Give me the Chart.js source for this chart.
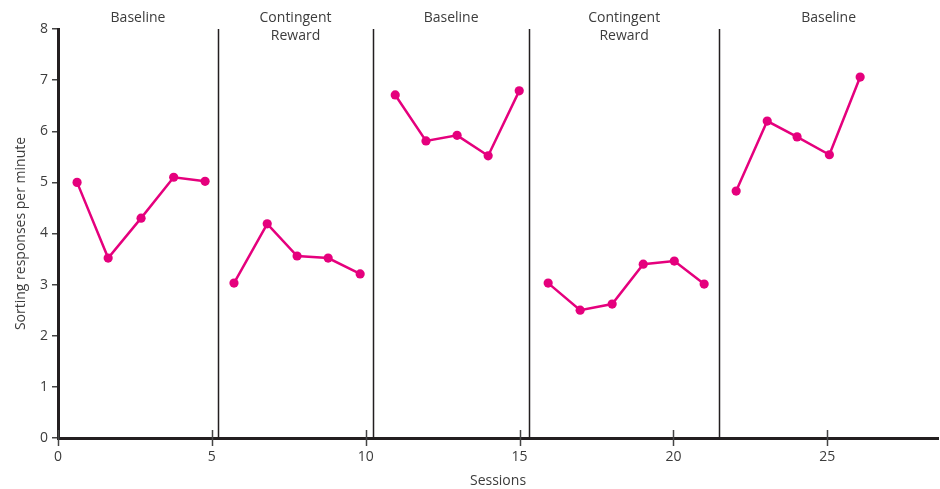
<!DOCTYPE html>
<html>
<head>
<meta charset="utf-8">
<script src="https://cdn.jsdelivr.net/npm/chart.js@4/dist/chart.umd.min.js"></script>
<style>
  html, body { margin: 0; padding: 0; background: #fff; }
  #wrap { width: 940px; height: 489px; position: relative; }
</style>
</head>
<body>
<div id="wrap"><canvas id="c" width="940" height="489"></canvas></div>
<script>
// Session numbers and sorting rates for each phase
const baselineASessions = [0.62, 1.63, 2.7, 3.76, 4.78];
const baselineARates    = [5.0, 3.52, 4.3, 5.1, 5.02];

const rewardASessions = [5.72, 6.8, 7.77, 8.78, 9.82];
const rewardARates    = [3.03, 4.19, 3.56, 3.52, 3.21];

const baselineBSessions = [10.96, 11.96, 12.97, 13.98, 14.99];
const baselineBRates    = [6.71, 5.81, 5.92, 5.52, 6.79];

const rewardBSessions = [15.93, 16.97, 18.01, 19.02, 20.03, 21.0];
const rewardBRates    = [3.03, 2.5, 2.62, 3.4, 3.46, 3.01];

const baselineCSessions = [22.04, 23.05, 24.02, 25.07, 26.07];
const baselineCRates    = [4.83, 6.2, 5.89, 5.54, 7.06];

// Phase change lines and phase names
const phaseBounds = [0, 5.2, 10.24, 15.31, 21.49, 28.6];
const phaseNames  = [["Baseline"], ["Contingent", "Reward"], ["Baseline"], ["Contingent", "Reward"], ["Baseline"]];

const xTicks = [0, 5, 10, 15, 20, 25];
const yTicks = [0, 1, 2, 3, 4, 5, 6, 7, 8];

const MAGENTA = '#e5007d';
const INK = '#231f20';
const TEXT = '#3c3c3c';
const FONT = "'Open Sans', 'Noto Sans', sans-serif";

function toPoints(xs, ys) { return xs.map((x, i) => ({ x: x, y: ys[i] })); }

function series(xs, ys) {
  return {
    data: toPoints(xs, ys),
    borderColor: MAGENTA,
    backgroundColor: MAGENTA,
    borderWidth: 2.5,
    pointRadius: 4.6,
    pointBorderWidth: 0,
    pointBackgroundColor: MAGENTA,
    tension: 0,
    clip: false
  };
}

// Phase lines, phase names and x tick marks that cross the axis
const phasePlugin = {
  id: 'phases',
  afterDatasetsDraw(chart) {
    const { ctx, scales: { x, y } } = chart;
    const top = y.getPixelForValue(8);
    const bottom = y.getPixelForValue(0);
    ctx.save();
    ctx.strokeStyle = INK;
    ctx.lineWidth = 1.5;
    for (let i = 1; i < phaseBounds.length - 1; i++) {
      const px = Math.round(x.getPixelForValue(phaseBounds[i])) + 0.5;
      ctx.beginPath();
      ctx.moveTo(px, top);
      ctx.lineTo(px, bottom);
      ctx.stroke();
    }
    ctx.fillStyle = TEXT;
    ctx.font = '14px ' + FONT;
    ctx.textAlign = 'center';
    ctx.textBaseline = 'middle';
    phaseNames.forEach((lines, i) => {
      const cx = x.getPixelForValue((phaseBounds[i] + phaseBounds[i + 1]) / 2);
      lines.forEach((t, j) => ctx.fillText(t, cx, 18 + j * 18));
    });
    ctx.strokeStyle = '#444';
    ctx.lineWidth = 1.5;
    xTicks.forEach(v => {
      const px = Math.round(x.getPixelForValue(v)) + 0.5;
      ctx.beginPath();
      ctx.moveTo(px, bottom - 8);
      ctx.lineTo(px, bottom + 8);
      ctx.stroke();
    });
    ctx.restore();
  }
};

new Chart(document.getElementById('c'), {
  type: 'line',
  data: {
    datasets: [
      series(baselineASessions, baselineARates),
      series(rewardASessions, rewardARates),
      series(baselineBSessions, baselineBRates),
      series(rewardBSessions, rewardBRates),
      series(baselineCSessions, baselineCRates)
    ]
  },
  options: {
    responsive: false,
    animation: false,
    layout: { autoPadding: false, padding: { top: 29, right: 2, left: 0, bottom: 0 } },
    plugins: { legend: { display: false }, tooltip: { enabled: false } },
    scales: {
      x: {
        type: 'linear',
        min: 0,
        max: phaseBounds[phaseBounds.length - 1],
        afterBuildTicks: s => { s.ticks = xTicks.map(v => ({ value: v })); },
        afterFit: s => { s.height = 51; s.paddingLeft = 0; s.paddingRight = 0; },
        grid: { display: false },
        border: { display: true, color: INK, width: 3 },
        ticks: { color: TEXT, font: { family: FONT, size: 14 }, padding: 3, maxRotation: 0 },
        title: { display: true, text: 'Sessions', color: TEXT, font: { family: FONT, size: 14 }, padding: { top: 0, bottom: 0 } }
      },
      y: {
        min: 0,
        max: 8,
        afterBuildTicks: s => { s.ticks = yTicks.map(v => ({ value: v })); },
        afterFit: s => { s.width = 58; },
        grid: { drawOnChartArea: false, drawTicks: true, tickLength: 6, color: '#444', lineWidth: 1.5 },
        border: { display: true, color: INK, width: 3 },
        ticks: { color: TEXT, font: { family: FONT, size: 14 }, padding: 4 },
        title: { display: true, text: 'Sorting responses per minute', color: TEXT, font: { family: FONT, size: 14 }, padding: { top: 13, bottom: 4 } }
      }
    }
  },
  plugins: [phasePlugin]
});
</script>
</body>
</html>
